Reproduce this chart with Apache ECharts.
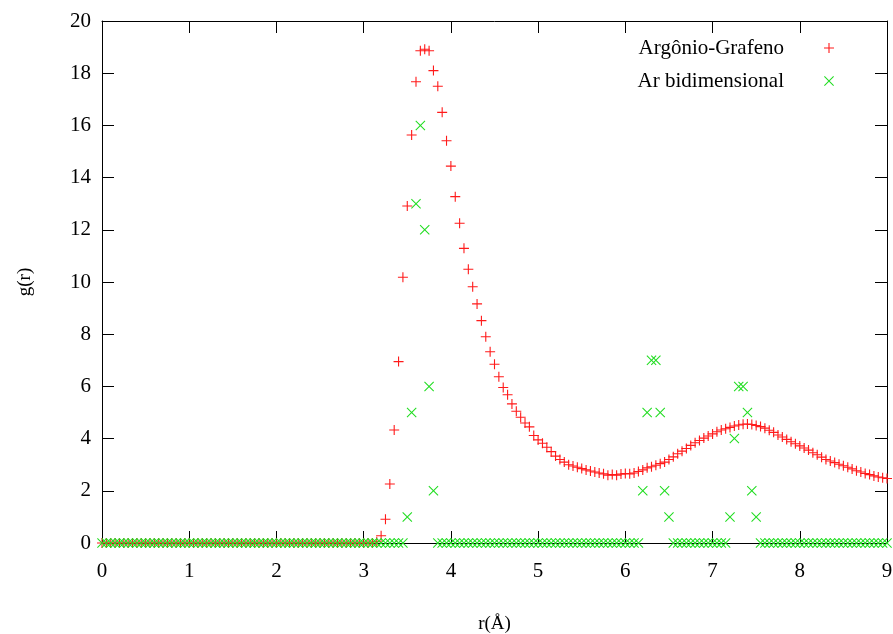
<!DOCTYPE html>
<html>
<head>
<meta charset="utf-8">
<title>g(r)</title>
<script src="https://cdn.jsdelivr.net/npm/echarts@6/dist/echarts.min.js"></script>
<style>
  html, body { margin: 0; padding: 0; background: #ffffff; }
  #chart { width: 893px; height: 634px; }
</style>
</head>
<body>
<div id="chart"></div>
<script>
// Radial distribution function g(r), sampled every 0.05 Å from 0 to 9 Å
const rStep = 0.05;
const rCount = 181;

const xTicks = [0, 1, 2, 3, 4, 5, 6, 7, 8, 9];
const yTicks = [0, 2, 4, 6, 8, 10, 12, 14, 16, 18, 20];

const seriesNames = ['Argônio-Grafeno', 'Ar bidimensional'];

// Argon on graphene
const gArGrafeno = [
  0, 0, 0, 0, 0, 0, 0, 0, 0, 0,
  0, 0, 0, 0, 0, 0, 0, 0, 0, 0,
  0, 0, 0, 0, 0, 0, 0, 0, 0, 0,
  0, 0, 0, 0, 0, 0, 0, 0, 0, 0,
  0, 0, 0, 0, 0, 0, 0, 0, 0, 0,
  0, 0, 0, 0, 0, 0, 0, 0, 0, 0,
  0, 0, 0, 0.05, 0.28, 0.91, 2.26, 4.33, 6.95, 10.18,
  12.91, 15.63, 17.67, 18.86, 18.92, 18.86, 18.1, 17.5, 16.5, 15.41,
  14.44, 13.27, 12.25, 11.29, 10.49, 9.82, 9.16, 8.52, 7.9, 7.33,
  6.85, 6.37, 5.96, 5.68, 5.33, 5.05, 4.82, 4.6, 4.45, 4.12,
  3.95, 3.82, 3.67, 3.5, 3.33, 3.2, 3.1, 3.0, 2.95, 2.9,
  2.85, 2.8, 2.76, 2.72, 2.68, 2.65, 2.6, 2.62, 2.6, 2.64,
  2.66, 2.65, 2.68, 2.74, 2.8, 2.88, 2.92, 2.98, 3.04, 3.1,
  3.2, 3.3, 3.42, 3.52, 3.62, 3.74, 3.84, 3.93, 4.02, 4.1,
  4.18, 4.26, 4.33, 4.38, 4.43, 4.48, 4.52, 4.55, 4.56, 4.54,
  4.5, 4.46, 4.4, 4.32, 4.24, 4.14, 4.06, 3.97, 3.88, 3.8,
  3.72, 3.64, 3.56, 3.46, 3.38, 3.29, 3.2, 3.14, 3.08, 3.02,
  2.96, 2.9, 2.84, 2.77, 2.72, 2.66, 2.62, 2.57, 2.53, 2.5,
  2.47
];

// Two-dimensional argon
const gArBidimensional = [
  0, 0, 0, 0, 0, 0, 0, 0, 0, 0,
  0, 0, 0, 0, 0, 0, 0, 0, 0, 0,
  0, 0, 0, 0, 0, 0, 0, 0, 0, 0,
  0, 0, 0, 0, 0, 0, 0, 0, 0, 0,
  0, 0, 0, 0, 0, 0, 0, 0, 0, 0,
  0, 0, 0, 0, 0, 0, 0, 0, 0, 0,
  0, 0, 0, 0, 0, 0, 0, 0, 0, 0,
  1, 5, 13, 16, 12, 6, 2, 0, 0, 0,
  0, 0, 0, 0, 0, 0, 0, 0, 0, 0,
  0, 0, 0, 0, 0, 0, 0, 0, 0, 0,
  0, 0, 0, 0, 0, 0, 0, 0, 0, 0,
  0, 0, 0, 0, 0, 0, 0, 0, 0, 0,
  0, 0, 0, 0, 2, 5, 7, 7, 5, 2,
  1, 0, 0, 0, 0, 0, 0, 0, 0, 0,
  0, 0, 0, 0, 1, 4, 6, 6, 5, 2,
  1, 0, 0, 0, 0, 0, 0, 0, 0, 0,
  0, 0, 0, 0, 0, 0, 0, 0, 0, 0,
  0, 0, 0, 0, 0, 0, 0, 0, 0, 0,
  0
];

const rValues = [];
for (let i = 0; i < rCount; i++) rValues.push(+(i * rStep).toFixed(2));

function pairs(values) {
  return values.map((g, i) => [rValues[i], g]);
}

const PLUS = 'path://M4.45,0 H5.55 V4.45 H10 V5.55 H5.55 V10 H4.45 V5.55 H0 V4.45 H4.45 Z';
const CROSS = 'path://M0,0.75 L0.75,0 L5,4.25 L9.25,0 L10,0.75 L5.75,5 L10,9.25 L9.25,10 L5,5.75 L0.75,10 L0,9.25 L4.25,5 Z';

const RED = '#ff1a1a';
const GREEN = '#22dd22';
const SERIF = '"Liberation Serif", "DejaVu Serif", Times, serif';

const axisLineStyle = { show: true, onZero: false, lineStyle: { color: '#000', width: 1 } };
const tickStyle = { show: true, inside: true, length: 12, lineStyle: { color: '#000', width: 1 } };

const chart = echarts.init(document.getElementById('chart'), null, { renderer: 'canvas' });

chart.setOption({
  animation: false,
  backgroundColor: '#ffffff',
  grid: { left: 102, right: 6, top: 21, bottom: 91, show: false, containLabel: false, outerBoundsMode: 'none' },
  legend: {
    orient: 'vertical',
    right: 54,
    top: 32,
    align: 'right',
    itemWidth: 10,
    itemHeight: 10,
    itemGap: 11,
    textStyle: { fontFamily: SERIF, fontSize: 21, color: '#000', lineHeight: 22, padding: [0, 35, 0, 0] },
    data: [
      { name: seriesNames[0], icon: PLUS },
      { name: seriesNames[1], icon: CROSS }
    ]
  },
  xAxis: [
    {
      type: 'value', position: 'bottom', min: xTicks[0], max: xTicks[xTicks.length - 1], interval: 1,
      axisLine: axisLineStyle, axisTick: tickStyle, splitLine: { show: false },
      axisLabel: { fontFamily: SERIF, fontSize: 21, color: '#000', margin: 18 },
      name: 'r(Å)', nameLocation: 'middle', nameGap: 72,
      nameTextStyle: { fontFamily: SERIF, fontSize: 19, color: '#000' }
    },
    {
      type: 'value', position: 'top', min: xTicks[0], max: xTicks[xTicks.length - 1], interval: 1,
      axisLine: axisLineStyle, axisTick: tickStyle, splitLine: { show: false },
      axisLabel: { show: false }
    }
  ],
  yAxis: [
    {
      type: 'value', position: 'left', min: yTicks[0], max: yTicks[yTicks.length - 1], interval: 2,
      axisLine: axisLineStyle, axisTick: tickStyle, splitLine: { show: false },
      axisLabel: { fontFamily: SERIF, fontSize: 21, color: '#000', margin: 11 },
      name: 'g(r)', nameLocation: 'middle', nameGap: 67, nameRotate: 90,
      nameTextStyle: { fontFamily: SERIF, fontSize: 19, color: '#000' }
    },
    {
      type: 'value', position: 'right', min: yTicks[0], max: yTicks[yTicks.length - 1], interval: 2,
      axisLine: axisLineStyle, axisTick: tickStyle, splitLine: { show: false },
      axisLabel: { show: false }
    }
  ],
  series: [
    {
      name: seriesNames[0],
      type: 'scatter',
      xAxisIndex: 0, yAxisIndex: 0,
      symbol: PLUS,
      symbolSize: 10,
      itemStyle: { color: RED, opacity: 1 },
      data: pairs(gArGrafeno),
      z: 2
    },
    {
      name: seriesNames[1],
      type: 'scatter',
      xAxisIndex: 0, yAxisIndex: 0,
      symbol: CROSS,
      symbolSize: 10,
      itemStyle: { color: GREEN, opacity: 1 },
      data: pairs(gArBidimensional),
      z: 3
    }
  ]
});
</script>
</body>
</html>
